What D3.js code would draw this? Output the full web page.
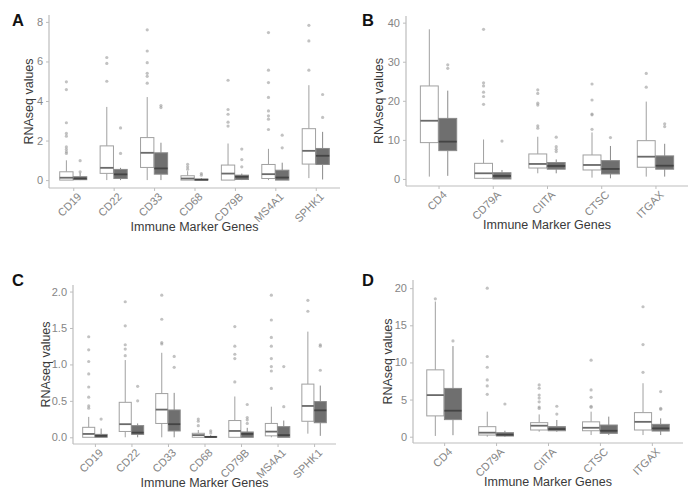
<!DOCTYPE html>
<html>
<head>
<meta charset="utf-8">
<script src="https://cdn.jsdelivr.net/npm/d3@7"></script>
<style>
  body { margin: 0; background: #fff; }
  text { font-family: Arial, "Liberation Sans", sans-serif; }
</style>
</head>
<body>
<svg width="700" height="504"></svg>
<script>
// gene lists
const genes7 = ["CD19", "CD22", "CD33", "CD68", "CD79B", "MS4A1", "SPHK1"]
const genes5 = ["CD4", "CD79A", "CIITA", "CTSC", "ITGAX"]

// boxes: [lower whisker, q1, median, q3, upper whisker]
// panel A
const boxA1 = [[0, 0, 0.12, 0.42, 1.0], [0, 0.34, 0.62, 1.73, 3.7], [0, 0.64, 1.38, 2.15, 4.2],
  [0, 0, 0.08, 0.22, 0.45], [0, 0, 0.33, 0.76, 1.85], [0, 0.08, 0.3, 0.79, 1.58], [0.1, 0.81, 1.48, 2.6, 4.8]]
const outA1 = [[4.97, 4.58, 2.9, 2.36, 2.22, 1.68, 1.55, 1.43, 1.35], [6.2, 5.9, 5.0], [7.6, 6.53, 5.94, 5.4, 5.25, 4.9],
  [0.8, 0.67, 0.55], [5.05, 3.57, 3.33, 2.93, 2.73], [7.46, 5.56, 4.93, 4.18, 3.5, 3.25, 3.08, 2.56], [7.83, 7.04, 5.56]]
const boxA2 = [[0, 0.02, 0.08, 0.17, 0.37], [0, 0.08, 0.29, 0.54, 0.62], [0, 0.3, 0.59, 1.38, 1.89],
  [0, 0, 0.02, 0.05, 0.1], [0, 0.03, 0.17, 0.25, 0.33], [0, 0, 0.13, 0.5, 0.88], [0.03, 0.79, 1.23, 1.6, 2.44]]
const outA2 = [[0.98, 0.42], [2.64, 1.35], [3.77, 3.67], [0.33, 0.25], [1.57, 1.04, 0.67], [2.27, 1.63], [4.33, 3.17]]

// panel B
const boxB1 = [[0.6, 9.3, 14.9, 23.8, 38.3], [0, 0.17, 1.45, 4.0, 10.1], [1.45, 2.8, 3.84, 6.4, 10.8],
  [0.34, 2.3, 3.58, 6.14, 11.9], [0.6, 3.0, 5.7, 9.8, 19.8]]
const outB1 = [[], [38.3, 24.6, 23.8, 22.2, 21.1, 19.1], [22.8, 21.9, 19.4, 18.9, 13.6, 13.0],
  [24.3, 20.2, 16.6, 16.4, 12.7], [27.0, 23.5]]
const boxB2 = [[0.8, 7.25, 9.55, 15.5, 22.6], [0, 0, 0.77, 1.6, 2.3], [1.45, 2.5, 3.33, 4.2, 5.0],
  [0.17, 1.28, 2.56, 4.7, 8.44], [0.6, 2.5, 3.4, 5.9, 9.0]]
const outB2 = [[29.2, 28.3], [9.7], [10.7, 8.27, 7.6, 7.0], [10.6], [14.1, 13.4]]

// panel C
const boxC1 = [[0, 0, 0.046, 0.137, 0.28], [0, 0.08, 0.18, 0.48, 1.06], [0, 0.19, 0.38, 0.6, 1.16],
  [0, 0, 0.03, 0.055, 0.1], [0, 0, 0.087, 0.23, 0.56], [0, 0.02, 0.078, 0.19, 0.42], [0.05, 0.22, 0.43, 0.73, 1.45]]
const outC1 = [[1.38, 1.2, 1.04, 0.87, 0.69, 0.55, 0.43, 0.4], [1.86, 1.53, 1.27, 1.21, 1.12], [1.95, 1.62, 1.3, 1.28],
  [0.25, 0.22, 0.16], [1.52, 1.25, 1.14, 1.08, 0.76], [1.95, 1.61, 1.37, 1.25, 1.08, 0.97, 0.91, 0.67], [1.88, 1.73]]
const boxC2 = [[0, 0, 0.02, 0.04, 0.12], [0, 0.04, 0.064, 0.16, 0.19], [0, 0.087, 0.18, 0.375, 0.61],
  [0, 0, 0.005, 0.012, 0.03], [0, 0, 0.046, 0.073, 0.13], [0, 0, 0.03, 0.146, 0.23], [0.02, 0.2, 0.37, 0.49, 0.71]]
const outC2 = [[0.25], [0.7, 0.5], [1.11, 0.96], [0.09, 0.06], [0.45, 0.27, 0.24, 0.19], [0.97, 0.42], [1.27, 1.25, 0.92]]

// panel D
const boxD1 = [[0.1, 2.8, 5.6, 9.0, 18.2], [0, 0.22, 0.54, 1.35, 3.37], [0.67, 0.9, 1.48, 1.89, 3.0],
  [0.22, 0.8, 1.2, 2.0, 3.37], [0.22, 0.9, 2.0, 3.24, 7.2]]
const outD1 = [[18.56], [20, 10.8, 9.35, 7.64, 6.83, 5.7], [6.97, 6.52, 5.6, 5.2, 4.7, 4.0, 3.8],
  [10.3, 6.3, 5.3, 4.1, 3.95], [17.5, 12.4, 8.67]]
const boxD2 = [[0.2, 2.3, 3.5, 6.5, 12.2], [0, 0.09, 0.27, 0.54, 0.8], [0.67, 0.8, 1.03, 1.35, 2.25],
  [0.22, 0.45, 0.8, 1.57, 2.7], [0.22, 0.76, 1.12, 1.66, 2.47]]
const outD2 = [[12.9], [4.4], [4.1, 3.05], [], [6.07, 3.82, 3.69]]

// tick values / labels
const ticksA = [0, 2, 4, 6, 8]
const ticksB = [0, 10, 20, 30, 40]
const ticksC = [0, 0.5, 1, 1.5, 2]
const ticksCLabels = ["0.0", "0.5", "1.0", "1.5", "2.0"]
const ticksD = [0, 5, 10, 15, 20]

const svg = d3.select("svg")

const panels = [
  {tag: "A", genes: genes7, b1: boxA1, o1: outA1, b2: boxA2, o2: outA2, ticks: ticksA,
   x0: 49, x1: 340, y0: 188, y1: 15, dom: [-0.4, 8.35], titleOff: 16, tag_x: 12, tag_y: 26},
  {tag: "B", genes: genes5, b1: boxB1, o1: outB1, b2: boxB2, o2: outB2, ticks: ticksB,
   x0: 406, x1: 688, y0: 186, y1: 16, dom: [-1.8, 41.7], titleOff: 23, tag_x: 362, tag_y: 26},
  {tag: "C", genes: genes7, b1: boxC1, o1: outC1, b2: boxC2, o2: outC2, ticks: ticksC, labels: ticksCLabels,
   x0: 73, x1: 336, y0: 444, y1: 285, dom: [-0.092, 2.09], titleOff: 23, tag_x: 12, tag_y: 286},
  {tag: "D", genes: genes5, b1: boxD1, o1: outD1, b2: boxD2, o2: outD2, ticks: ticksD,
   x0: 413, x1: 683, y0: 443, y1: 280, dom: [-0.85, 21.1], titleOff: 21, tag_x: 362, tag_y: 286}
]

panels.forEach(drawPanel)

function drawPanel(p) {
  const g = svg.append("g")

  const x = d3.scalePoint().domain(p.genes).range([p.x0, p.x1]).padding(0.6)
  const y = d3.scaleLinear().domain(p.dom).range([p.y0, p.y1])
  const step = x.step()
  const bw = step * 0.33
  const off = step * 0.17

  // axes
  const yAxis = d3.axisLeft(y).tickValues(p.ticks).tickSize(3).tickPadding(3)
    .tickFormat((d, i) => p.labels ? p.labels[i] : d)
  const ya = g.append("g").attr("transform", "translate(" + p.x0 + ",0)").call(yAxis)
  ya.select(".domain").attr("d", "M0," + p.y0 + "V" + p.y1)

  const xAxis = d3.axisBottom(x).tickSize(3).tickPadding(3)
  const xa = g.append("g").attr("transform", "translate(0," + p.y0 + ")").call(xAxis)
  xa.select(".domain").attr("d", "M" + p.x0 + ",0H" + p.x1)
  xa.selectAll(".tick text")
    .attr("text-anchor", "end")
    .attr("transform", "translate(3,4) rotate(-45)")
    .attr("dy", "0.7em")
    .attr("y", 0)

  g.selectAll(".domain").attr("stroke", "#bdbdbd").attr("stroke-width", 1.2)
  g.selectAll(".tick line").attr("stroke", "#bdbdbd")
  g.selectAll(".tick text").attr("fill", "#858585").attr("font-size", 11)
    .attr("font-family", "Arial, 'Liberation Sans', sans-serif")

  // boxes
  drawGroup(g, p.genes, p.b1, p.o1, x, y, -off, bw, "#ffffff", "#a0a0a0", "#6a6a6a")
  drawGroup(g, p.genes, p.b2, p.o2, x, y, off, bw, "#6f6f6f", "#8a8a8a", "#444444")

  // titles
  g.append("text")
    .attr("transform", "translate(" + (p.x0 - p.titleOff) + "," + ((p.y0 + p.y1) / 2) + ") rotate(-90)")
    .attr("text-anchor", "middle")
    .attr("font-size", 12.5)
    .attr("fill", "#3a3a3a")
    .text("RNAseq values")

  g.append("text")
    .attr("x", (p.x0 + p.x1) / 2)
    .attr("y", p.y0 + 43)
    .attr("text-anchor", "middle")
    .attr("font-size", 12.5)
    .attr("fill", "#3a3a3a")
    .text("Immune Marker Genes")

  g.append("text")
    .attr("x", p.tag_x)
    .attr("y", p.tag_y)
    .attr("font-size", 16.5)
    .attr("font-weight", "bold")
    .attr("fill", "#111")
    .text(p.tag)
}

function drawGroup(g, genes, boxes, outs, x, y, dx, bw, fill, stroke, medColor) {
  const rows = genes.map((gn, i) => ({gene: gn, s: boxes[i], o: outs[i]}))
  const grp = g.append("g")
    .selectAll("g")
    .data(rows)
    .join("g")
    .attr("transform", d => "translate(" + (x(d.gene) + dx) + ",0)")

  // whiskers
  grp.append("line")
    .attr("x1", 0).attr("x2", 0)
    .attr("y1", d => y(d.s[3])).attr("y2", d => y(d.s[4]))
    .attr("stroke", stroke)
  grp.append("line")
    .attr("x1", 0).attr("x2", 0)
    .attr("y1", d => y(d.s[1])).attr("y2", d => y(d.s[0]))
    .attr("stroke", stroke)

  grp.append("rect")
    .attr("x", -bw / 2)
    .attr("width", bw)
    .attr("y", d => y(d.s[3]))
    .attr("height", d => Math.max(0.5, y(d.s[1]) - y(d.s[3])))
    .attr("fill", fill)
    .attr("stroke", stroke)
    .attr("stroke-width", 1)

  grp.append("line")
    .attr("x1", -bw / 2).attr("x2", bw / 2)
    .attr("y1", d => y(d.s[2])).attr("y2", d => y(d.s[2]))
    .attr("stroke", medColor)
    .attr("stroke-width", 1.8)

  grp.selectAll("circle")
    .data(d => d.o)
    .join("circle")
    .attr("cx", 0)
    .attr("cy", v => y(v))
    .attr("r", 1.6)
    .attr("fill", "#9a9a9a")
    .attr("fill-opacity", 0.6)
}
</script>
</body>
</html>
